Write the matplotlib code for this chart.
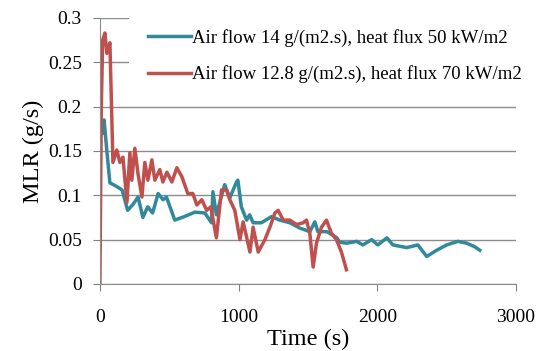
import matplotlib
matplotlib.use('Agg')
import matplotlib.pyplot as plt
import matplotlib.ticker as ticker

# Air flow 14 g/(m2.s), heat flux 50 kW/m2
t_teal = [20, 30, 50, 72, 120, 160, 200, 240, 275, 310, 345, 380, 420, 455, 480,
          540, 610, 685, 757, 805, 815, 840, 900, 937, 985, 995, 1020, 1058, 1080,
          1105, 1165, 1238, 1297, 1370, 1442, 1514, 1550, 1572, 1637, 1680, 1709,
          1730, 1780, 1853, 1897, 1960, 2004, 2070, 2113, 2213, 2293, 2357, 2429,
          2501, 2581, 2645, 2703, 2740]
mlr_teal = [0.17, 0.185, 0.15, 0.114, 0.11, 0.106, 0.083, 0.09, 0.098, 0.075, 0.087,
            0.08, 0.102, 0.095, 0.098, 0.072, 0.076, 0.081, 0.08, 0.069, 0.104, 0.078,
            0.112, 0.097, 0.115, 0.117, 0.087, 0.072, 0.078, 0.069, 0.069, 0.076,
            0.072, 0.069, 0.063, 0.059, 0.07, 0.059, 0.059, 0.055, 0.052, 0.047,
            0.046, 0.048, 0.044, 0.05, 0.044, 0.052, 0.044, 0.041, 0.044, 0.031,
            0.038, 0.044, 0.048, 0.046, 0.042, 0.038]

# Air flow 12.8 g/(m2.s), heat flux 70 kW/m2
t_red = [0, 10, 20, 36, 50, 72, 94, 122, 144, 166, 195, 216, 230, 252, 274, 303,
         324, 346, 375, 396, 432, 454, 483, 519, 555, 591, 634, 670, 699, 735, 770,
         800, 840, 877, 913, 937, 973, 1010, 1033, 1058, 1082, 1105, 1142, 1190,
         1226, 1262, 1286, 1322, 1370, 1418, 1466, 1490, 1514, 1538, 1562, 1598,
         1634, 1670, 1706, 1742, 1778]
mlr_red = [0.0, 0.2, 0.275, 0.283, 0.26, 0.272, 0.137, 0.151, 0.137, 0.143, 0.092,
           0.148, 0.117, 0.153, 0.125, 0.098, 0.137, 0.117, 0.14, 0.117, 0.129, 0.115,
           0.126, 0.115, 0.131, 0.121, 0.102, 0.102, 0.089, 0.095, 0.083, 0.087,
           0.052, 0.106, 0.106, 0.095, 0.083, 0.05, 0.07, 0.053, 0.036, 0.064, 0.036,
           0.05, 0.064, 0.08, 0.083, 0.072, 0.072, 0.067, 0.069, 0.072, 0.057, 0.019,
           0.046, 0.064, 0.072, 0.057, 0.05, 0.036, 0.016]

labels = ['Air flow 14 g/(m2.s), heat flux 50 kW/m2',
          'Air flow 12.8 g/(m2.s), heat flux 70 kW/m2']

plt.rcParams['font.family'] = ['Liberation Serif', 'DejaVu Serif']

fig = plt.figure(figsize=(5.43, 3.51), dpi=100)
ax = fig.add_axes([0.184, 0.191, 0.766, 0.758])

ax.plot(t_teal, mlr_teal, color='#31899b', lw=2.5, label=labels[0])
ax.plot(t_red, mlr_red, color='#c0504d', lw=2.5, label=labels[1])

ax.set_xlim(0, 3000)
ax.set_ylim(0, 0.3)
ax.set_xticks([0, 1000, 2000, 3000])
ax.set_yticks([0, 0.05, 0.1, 0.15, 0.2, 0.25, 0.3])
ax.yaxis.set_major_formatter(ticker.FormatStrFormatter('%g'))
ax.tick_params(labelsize=14, colors='#808080', labelcolor='black', length=5)
ax.tick_params(axis='x', pad=13)
ax.tick_params(axis='y', pad=8)

ax.grid(axis='y', color='#8c8c8c', lw=1)
ax.set_axisbelow(True)
for s in ['top', 'right']:
    ax.spines[s].set_visible(False)
for s in ['left', 'bottom']:
    ax.spines[s].set_color('#8c8c8c')

ax.set_xlabel('Time (s)', fontsize=17.5, labelpad=2)
ax.set_ylabel('MLR (g/s)', fontsize=17.5, labelpad=3)

leg = ax.legend(loc='upper left', bbox_to_anchor=(0.07, 1.03), fontsize=13.5,
                frameon=True, framealpha=1, edgecolor='none', facecolor='white',
                fancybox=False, handlelength=2.3, handletextpad=0.05,
                labelspacing=1.0, borderpad=1.0, borderaxespad=0)

fig.savefig('out.png', dpi=100)
